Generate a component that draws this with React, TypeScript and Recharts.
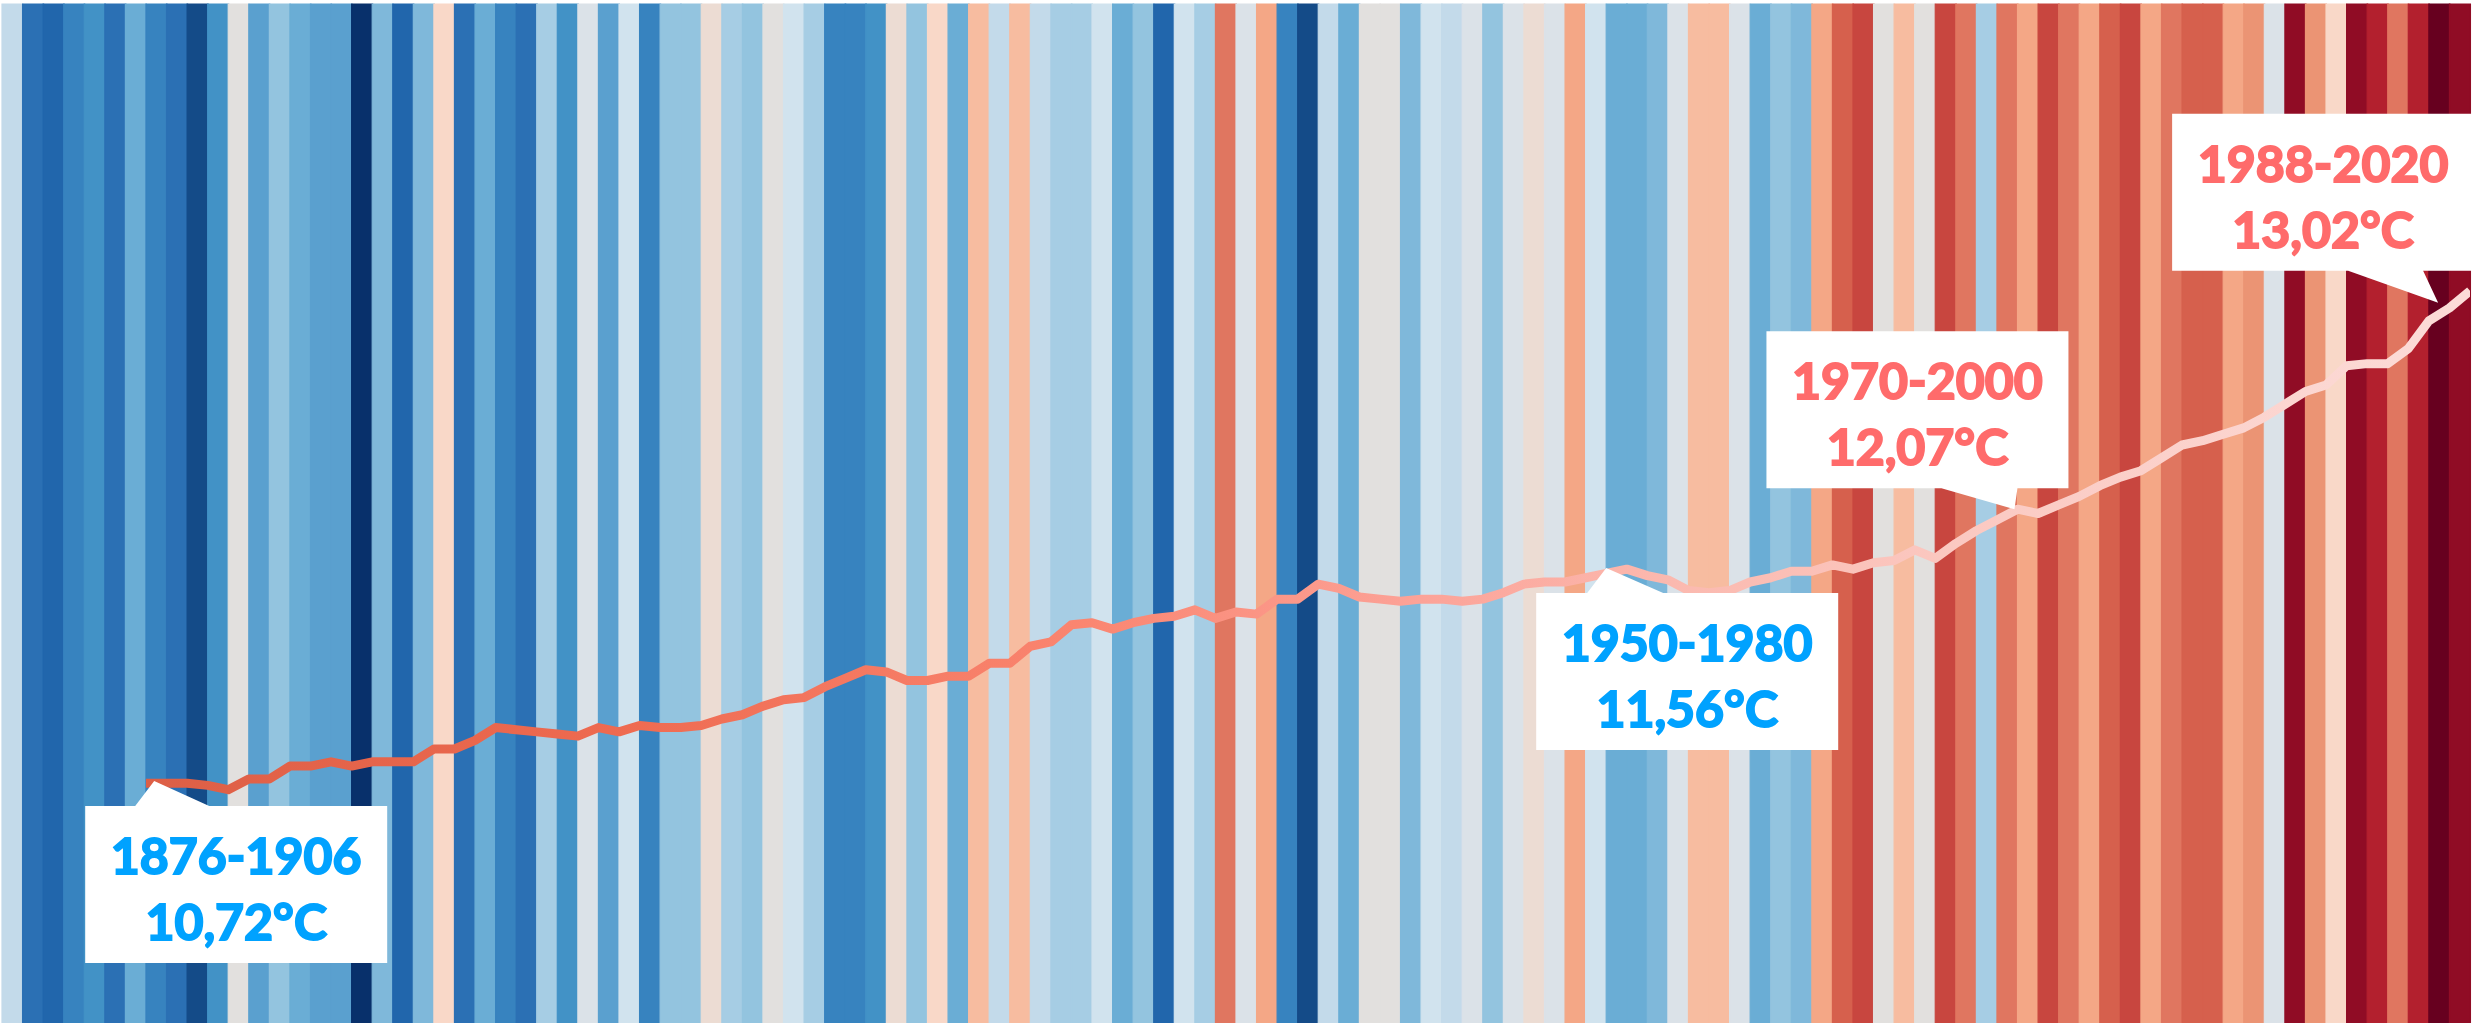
import React from 'react';
import { ComposedChart, Bar, Cell, Line, XAxis, YAxis, ReferenceDot } from 'recharts';

const ANOMALIES = [
  -0.3, -1.1, -1.2, -1.0, -0.9, -1.1, -0.7, -1.0, -1.1, -1.3,
  -0.9, 0.0, -0.8, -0.5, -0.7, -0.8, -0.8, -1.4, -0.6, -1.2,
  -0.6, 0.2, -1.1, -0.7, -1.0, -1.1, -0.4, -0.9, -0.1, -0.8,
  -0.2, -1.0, -0.5, -0.5, 0.1, -0.4, -0.5, 0.0, -0.2, -0.4,
  -1.0, -1.0, -0.9, 0.1, -0.5, 0.2, -0.7, 0.3, -0.3, 0.3,
  -0.3, -0.4, -0.4, -0.2, -0.7, -0.5, -1.2, -0.2, -0.4, 0.6,
  -0.1, 0.4, -1.0, -1.3, -0.3, -0.7, 0.0, 0.0, -0.6, -0.2,
  -0.3, -0.1, -0.5, -0.1, 0.1, -0.1, 0.4, -0.2, -0.7, -0.7,
  -0.6, -0.1, 0.3, 0.3, -0.1, -0.7, -0.5, -0.6, 0.4, 0.7,
  0.8, 0.0, 0.3, 0.0, 0.8, 0.6, -0.4, 0.6, 0.4, 0.8,
  0.6, 0.4, 0.7, 0.8, 0.4, 0.6, 0.7, 0.7, 0.4, 0.5,
  -0.1, 1.0, 0.5, 0.2, 1.0, 0.9, 0.6, 0.9, 1.1, 1.0,
];

const FIRST_YEAR = 1901;
const YEARS = ANOMALIES.map((_, i) => FIRST_YEAR + i);

// 30-year mean temperature (°C), 1907 .. 2020
const MEAN_START = 1907;
const MEANS = [
  10.72, 10.72, 10.72, 10.71, 10.69, 10.74, 10.74, 10.80, 10.80, 10.82,
  10.80, 10.82, 10.82, 10.82, 10.88, 10.88, 10.92, 10.98, 10.97, 10.96,
  10.95, 10.94, 10.98, 10.96, 10.99, 10.98, 10.98, 10.99, 11.02, 11.04,
  11.08, 11.11, 11.12, 11.17, 11.21, 11.25, 11.24, 11.20, 11.20, 11.22,
  11.22, 11.28, 11.28, 11.36, 11.38, 11.46, 11.47, 11.44, 11.47, 11.49,
  11.50, 11.53, 11.49, 11.52, 11.51, 11.58, 11.58, 11.65, 11.63, 11.59,
  11.58, 11.57, 11.58, 11.58, 11.57, 11.58, 11.61, 11.65, 11.66, 11.66,
  11.68, 11.70, 11.72, 11.69, 11.67, 11.62, 11.61, 11.62, 11.66, 11.68,
  11.71, 11.71, 11.74, 11.72, 11.75, 11.76, 11.81, 11.77, 11.84, 11.90,
  11.95, 12.00, 11.98, 12.02, 12.06, 12.11, 12.15, 12.18, 12.24, 12.30,
  12.32, 12.35, 12.38, 12.43, 12.49, 12.55, 12.58, 12.67, 12.68, 12.68,
  12.75, 12.88, 12.94, 13.02,
];

const CALLOUTS = [
  { period: '1876-1906', label: '10,72°C', tipYear: 1907.4, tipValue: 10.73, dx: -69, dy: 25, side: 'top', p0: 50, p1: 124, warm: false },
  { period: '1950-1980', label: '11,56°C', tipYear: 1978.0, tipValue: 11.725, dx: -70, dy: 25, side: 'top', p0: 51, p1: 127, warm: false },
  { period: '1970-2000', label: '12,07°C', tipYear: 1997.85, tipValue: 12.0, dx: -248, dy: -178, side: 'bottom', p0: 175, p1: 251, warm: true },
  { period: '1988-2020', label: '13,02°C', tipYear: 2018.45, tipValue: 12.965, dx: -266, dy: -189, side: 'bottom', p0: 176, p1: 251, warm: true },
];

const PALETTE = [
  '#08306b', '#144b88', '#2166ac', '#2b70b4', '#3783bf', '#4292c6', '#5aa0cf',
  '#6aadd5', '#7fb8da', '#93c4df', '#a6cde4', '#c3daea', '#d1e3ee', '#dbe2e8',
  '#e2e0de', '#ecdcd3', '#f9d8c8', '#f7bca0', '#f4a786', '#eb9474', '#e07660',
  '#d6604d', '#c8463f', '#b3202e', '#900c25', '#67001f',
];

const colorFor = (a: number) => {
  const i = Math.round((a + 1.4) * 10);
  return PALETTE[Math.max(0, Math.min(PALETTE.length - 1, i))];
};

const rows = YEARS.map((year, i) => {
  const m = year - MEAN_START;
  return {
    year,
    anomaly: ANOMALIES[i],
    band: 1,
    mean: m >= 0 && m < MEANS.length ? MEANS[m] : null,
  };
});

const BOX_W = 302;
const BOX_H = 157;
const BLUE = '#00a2ff';
const RED = '#ff6b6b';
const LABEL_FONT = { fontFamily: 'Lato, "Open Sans", sans-serif', fontWeight: 700, fontSize: 50 };

function Callout({ cx, cy, c }: { cx: number, cy: number, c: any }) {
  const bx = cx + c.dx;
  const by = cy + c.dy;
  const d = c.side === 'top'
    ? `M${bx},${by} L${bx + c.p0},${by} L${cx},${cy} L${bx + c.p1},${by} L${bx + BOX_W},${by} L${bx + BOX_W},${by + BOX_H} L${bx},${by + BOX_H} Z`
    : `M${bx},${by} L${bx + BOX_W},${by} L${bx + BOX_W},${by + BOX_H} L${bx + c.p1},${by + BOX_H} L${cx},${cy} L${bx + c.p0},${by + BOX_H} L${bx},${by + BOX_H} Z`;
  const tx = bx + BOX_W / 2;
  const fill = c.warm ? RED : BLUE;
  return (
    <g>
      <path d={d} fill="#ffffff" />
      <text x={tx} y={by + 68} textAnchor="middle" fill={fill} stroke={fill} strokeWidth={2} style={LABEL_FONT}>
        {c.period}
      </text>
      <text x={tx} y={by + 134} textAnchor="middle" fill={fill} stroke={fill} strokeWidth={2} style={LABEL_FONT}>
        {c.label}
      </text>
    </g>
  );
}

export default function App() {
  const W = 2483;
  const H = 1023;
  return (
    <div style={{ position: 'absolute', left: 0, top: 0, width: W, height: H, background: '#fff' }}>
      <ComposedChart
        width={W}
        height={H}
        data={rows}
        margin={{ top: 4, right: 13, bottom: 0, left: 2 }}
        barCategoryGap={0}
        barGap={0}
      >
        <defs>
          <linearGradient id="lineGrad" x1="0" y1="0" x2="1" y2="0">
            <stop offset="0%" stopColor="#dd5f46" />
            <stop offset="20%" stopColor="#ee6a50" />
            <stop offset="40%" stopColor="#fa8570" />
            <stop offset="55%" stopColor="#fca398" />
            <stop offset="65%" stopColor="#fbb8ae" />
            <stop offset="80%" stopColor="#fbcbc4" />
            <stop offset="100%" stopColor="#fcdcd8" />
          </linearGradient>
        </defs>
        <XAxis xAxisId="s" dataKey="year" type="category" hide />
        <XAxis xAxisId="t" dataKey="year" type="number" domain={[1900, 2020]} hide allowDataOverflow />
        <YAxis yAxisId="s" domain={[0, 1]} hide />
        <YAxis yAxisId="t" domain={[9.6, 14.36]} hide allowDataOverflow />
        <Bar xAxisId="s" yAxisId="s" dataKey="band" isAnimationActive={false}>
          {rows.map(r => (
            <Cell key={r.year} fill={colorFor(r.anomaly)} stroke={colorFor(r.anomaly)} strokeWidth={1.2} />
          ))}
        </Bar>
        <Line
          xAxisId="t"
          yAxisId="t"
          dataKey="mean"
          stroke="url(#lineGrad)"
          strokeWidth={9}
          strokeLinejoin="round"
          dot={false}
          activeDot={false}
          isAnimationActive={false}
        />
        {CALLOUTS.map(c => (
          <ReferenceDot
            key={c.period}
            xAxisId="t"
            yAxisId="t"
            x={c.tipYear}
            y={c.tipValue}
            r={0}
            ifOverflow="visible"
            shape={(p: any) => <Callout cx={p.cx} cy={p.cy} c={c} />}
          />
        ))}
      </ComposedChart>
    </div>
  );
}
